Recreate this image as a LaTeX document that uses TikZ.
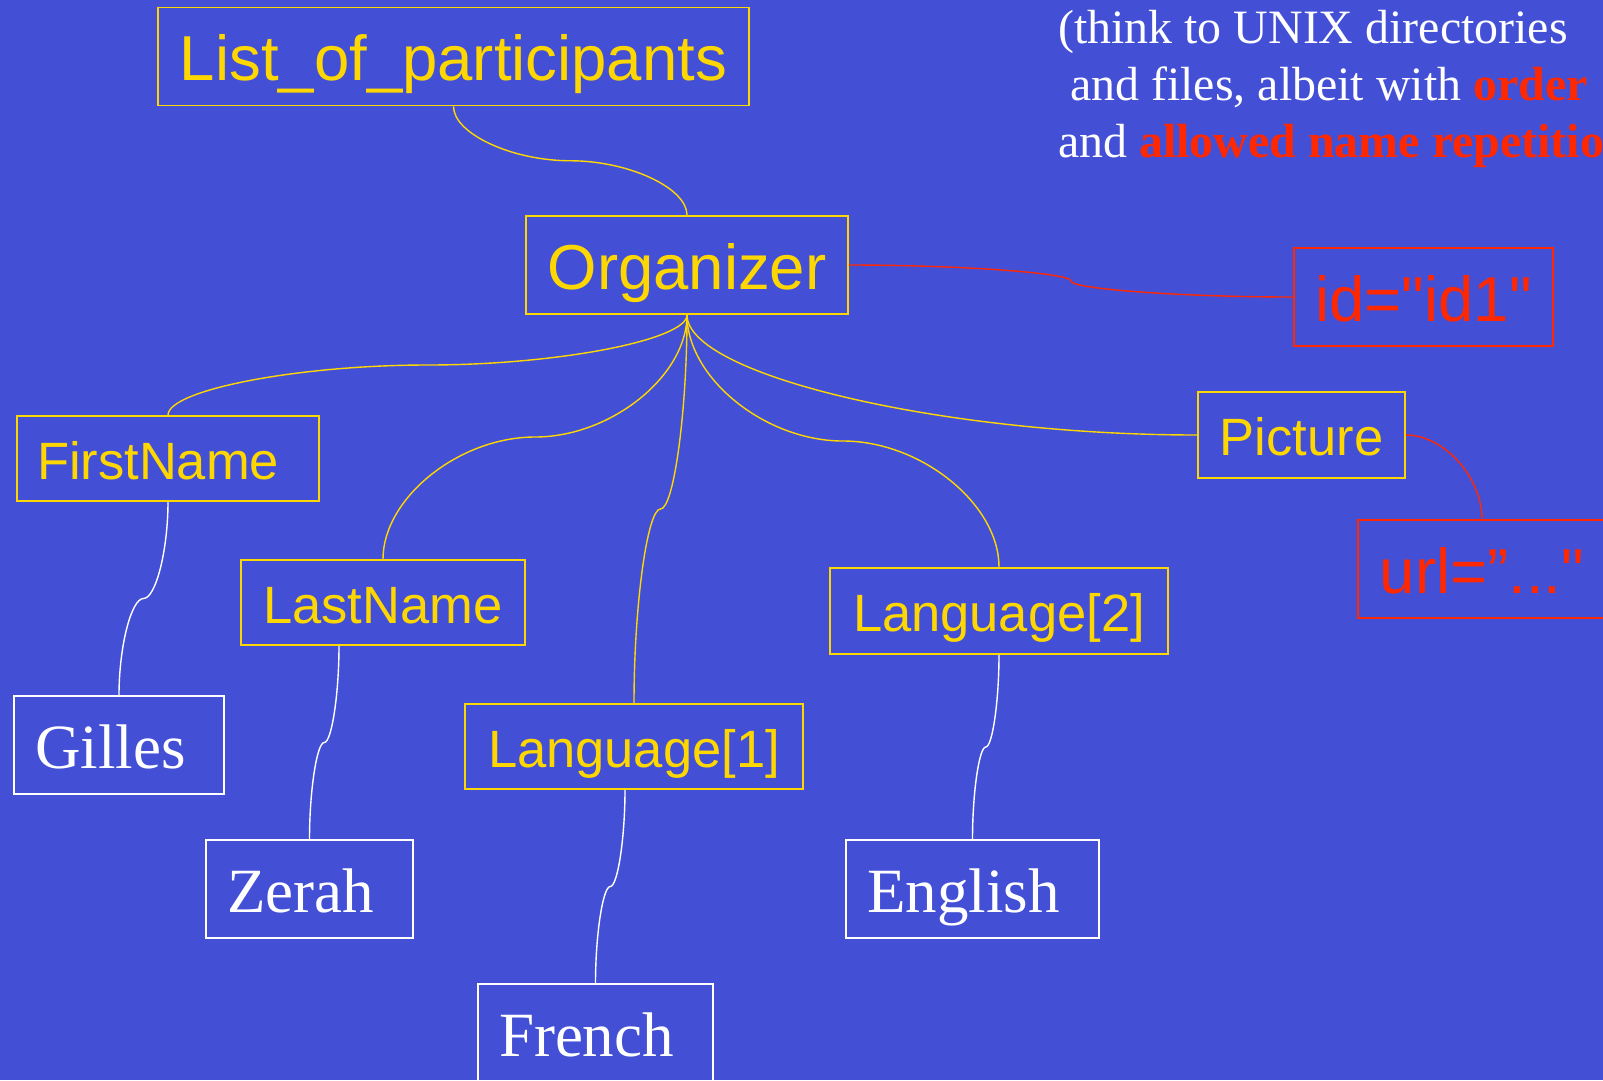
\documentclass[tikz,border=0pt]{standalone}
\usepackage{fontspec}
\usetikzlibrary{calc}
\newfontfamily\lsans{Liberation Sans}
\newfontfamily\lserif{Liberation Serif}
\newcommand\bigsans{\lsans\fontsize{63.5}{72}\selectfont}
\newcommand\smallsans{\lsans\fontsize{52.5}{60}\selectfont}
\newcommand\leafserif{\lserif\fontsize{63}{72}\selectfont}
\newcommand\noteserif{\lserif\fontsize{47.9}{57}\selectfont}
\definecolor{slide}{RGB}{67,80,214}
\definecolor{gold}{RGB}{255,215,0}
\definecolor{alert}{RGB}{255,40,0}
% curved elbow connectors
\tikzset{
  vh/.style={to path={let \p1=(\tikztostart),\p2=(\tikztotarget) in
    .. controls (\x1,{0.75*(\y1)+0.25*(\y2)}) and ({0.75*(\x1)+0.25*(\x2)},{0.5*(\y1)+0.5*(\y2)})
    .. ({0.5*(\x1)+0.5*(\x2)},{0.5*(\y1)+0.5*(\y2)})
    .. controls ({0.25*(\x1)+0.75*(\x2)},{0.5*(\y1)+0.5*(\y2)}) and (\x2,{0.25*(\y1)+0.75*(\y2)})
    .. (\tikztotarget)}},
  hh/.style={to path={let \p1=(\tikztostart),\p2=(\tikztotarget) in
    .. controls ({0.75*(\x1)+0.25*(\x2)},\y1) and ({0.5*(\x1)+0.5*(\x2)},{0.75*(\y1)+0.25*(\y2)})
    .. ({0.5*(\x1)+0.5*(\x2)},{0.5*(\y1)+0.5*(\y2)})
    .. controls ({0.5*(\x1)+0.5*(\x2)},{0.25*(\y1)+0.75*(\y2)}) and ({0.25*(\x1)+0.75*(\x2)},\y2)
    .. (\tikztotarget)}},
  vtoh/.style={to path={let \p1=(\tikztostart),\p2=(\tikztotarget) in
    .. controls (\x1,{0.5*(\y1)+0.5*(\y2)}) and ({0.5*(\x1)+0.5*(\x2)},\y2) .. (\tikztotarget)}},
  htov/.style={to path={let \p1=(\tikztostart),\p2=(\tikztotarget) in
    .. controls ({0.5*(\x1)+0.5*(\x2)},\y1) and (\x2,{0.5*(\y1)+0.5*(\y2)}) .. (\tikztotarget)}},
}
\begin{document}
\begin{tikzpicture}[x=1pt,y=1pt,
  box/.style={line width=1.8pt,inner sep=0pt},
  bigtag/.style={box,draw=gold,text=gold,font=\bigsans,text height=58pt,text depth=10pt,minimum height=98pt},
  tag/.style={box,draw=gold,text=gold,font=\smallsans,text height=48pt,text depth=7pt,minimum height=85pt},
  attr/.style={box,draw=alert,text=alert,font=\bigsans,text height=58pt,text depth=10pt,minimum height=98pt},
  leaf/.style={box,draw=white,text=white,font=\leafserif,text height=56pt,text depth=10pt,minimum height=98pt,inner xsep=21pt,align=left},
  link/.style={gold,line width=1.4pt},
  attrlink/.style={alert,line width=1.4pt},
  leaflink/.style={white,line width=1.4pt},
  note/.style={text=white,font=\noteserif,align=left,inner sep=0pt}]
\useasboundingbox (0,0) rectangle (1603,-1080);
\clip (0,0) rectangle (1603,-1080);
\fill[slide] (0,0) rectangle (1603,-1080);

% element nodes
\node[bigtag,minimum width=591pt] (lop) at (453.5,-56.5) {List\_of\_participants};
\node[bigtag,minimum width=322pt] (org) at (687,-265) {Organizer};
\node[tag,minimum width=302pt,text width=262pt,inner xsep=20pt,align=left] (fn) at (168,-458.5) {FirstName};
\node[tag,minimum width=284pt] (ln) at (383,-602.5) {LastName};
\node[tag,minimum width=338pt] (la1) at (634,-746.5) {Language[1]};
\node[tag,minimum width=338pt,minimum height=86pt] (la2) at (999,-611) {Language[2]};
\node[tag,minimum width=207pt,minimum height=86pt] (pic) at (1301.5,-435) {Picture};

% attribute nodes
\node[attr,minimum width=259pt] (id) at (1423.5,-297) {id="id1"};
\node[attr,minimum width=248pt] (url) at (1482,-569) {url=”..."};

% text nodes
\node[leaf,text width=168pt] (gil) at (119,-745) {Gilles};
\node[leaf,text width=165pt] (zer) at (309.5,-889) {Zerah};
\node[leaf,text width=193pt] (fre) at (595.5,-1033) {French};
\node[leaf,text width=211pt] (eng) at (972.5,-889) {English};

% remark, placed by its last baseline
\node[note,anchor=base west] (rem) at (1058,-157) {(think to UNIX directories\\
  \hspace*{12pt}and files, albeit with {\bfseries\color{alert}order}\\
  and {\bfseries\color{alert}allowed name repetitio}};

% connectors
\draw[link] (lop.south) to[vh] (org.north);
\foreach \t in {fn,ln,la1,la2}{\draw[link] (org.south) to[vh] (\t.north);}
\draw[link] (org.south) to[vtoh] (pic.west);
\draw[attrlink] (org.east) to[hh] (id.west);
\draw[attrlink] (pic.east) to[htov] (url.north);
\draw[leaflink] (fn.south) to[vh] (gil.north);
\draw[leaflink] ([xshift=-44pt]ln.south) to[vh] (zer.north);
\draw[leaflink] ([xshift=-9pt]la1.south) to[vh] (fre.north);
\draw[leaflink] (la2.south) to[vh] (eng.north);
\end{tikzpicture}
\end{document}
